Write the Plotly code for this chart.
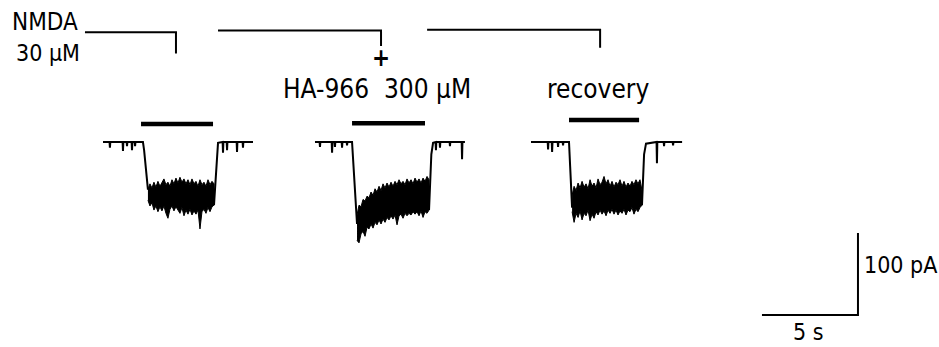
import numpy as np
import plotly.graph_objects as go

# ---------------- data (time in s, current in pA) ----------------
band_time = [(2.34, 5.78), (13.23, 16.98), (24.43, 28.07)]

trace1_top = [-58, -51, -56, -49, -55, -48, -54, -50, -45, -52, -49, -54, -46, -51, -44, -50, -43,
              -49, -45, -51, -46, -52, -45, -51, -48, -54, -46, -52, -49, -54, -46, -52, -48, -51]
trace1_bottom = [-71, -78, -74, -83, -78, -85, -79, -84, -78, -87, -93, -82, -78, -84, -79, -82, -87,
                 -80, -90, -83, -88, -82, -89, -84, -88, -83, -106, -85, -82, -87, -80, -85, -79, -77]
trace2_top = [-89, -77, -79, -70, -72, -66, -68, -61, -65, -57, -61, -54, -59, -51, -56, -50, -55, -49,
              -54, -48, -52, -46, -51, -48, -52, -45, -50, -46, -51, -44, -49, -45, -50, -44, -48, -42, -46]
trace2_bottom = [-120, -123, -112, -109, -115, -104, -106, -100, -105, -98, -101, -95, -100, -94, -98,
                 -92, -95, -90, -94, -89, -101, -90, -88, -93, -87, -90, -87, -89, -85, -88, -85, -90,
                 -84, -92, -85, -87, -83]
trace3_top = [-65, -54, -59, -50, -56, -48, -55, -51, -57, -46, -54, -50, -56, -45, -52, -49, -42, -51,
              -46, -54, -48, -55, -49, -52, -46, -54, -48, -55, -50, -54, -48, -52, -46, -51, -46, -59]
trace3_bottom = [-85, -98, -87, -92, -84, -95, -87, -90, -83, -96, -88, -93, -85, -89, -83, -88, -84,
                 -90, -83, -87, -82, -88, -83, -89, -84, -87, -82, -89, -83, -85, -80, -88, -82, -85, -80, -77]

trace1_pre_t = [0.00, 0.34, 0.36, 0.38, 1.02, 1.04, 1.06, 1.23, 1.25, 1.27, 1.49, 1.51, 1.53, 1.65, 1.67,
                1.69, 2.08, 2.14, 2.24, 2.34]
trace1_pre_i = [0, 0, -7, 0, 0, -11, 0, 0, -5, 0, 0, -10, 0, 0, -5, 0, 0, -10, -34, -58]
trace1_post_t = [5.78, 5.86, 5.92, 5.99, 6.23, 6.25, 6.27, 6.44, 6.46, 6.48, 6.96, 6.98, 7.00, 7.27, 7.29,
                 7.31, 7.81]
trace1_post_i = [-77, -45, -15, -1, 0, -13, 0, 0, -10, 0, 0, -12, 0, 0, -7, 0, 0]

trace2_pre_t = [11.04, 11.28, 11.30, 11.32, 11.91, 11.93, 11.95, 12.06, 12.08, 12.10, 12.43, 12.45, 12.47,
                12.69, 12.71, 12.73, 12.97, 13.05, 13.13, 13.23]
trace2_pre_i = [0, 0, -6, 0, 0, -13, 0, 0, -6, 0, 0, -7, 0, 0, -4, 0, 0, -30, -70, -100]
trace2_post_t = [16.98, 17.04, 17.10, 17.19, 17.32, 17.34, 17.36, 17.53, 17.55, 17.57, 18.05, 18.07, 18.09,
                 18.68, 18.70, 18.72, 18.85]
trace2_post_i = [-83, -45, -15, -1, 0, -10, 0, 0, -7, 0, 0, -5, 0, 0, -21, 0, 0]

trace3_pre_t = [22.29, 23.16, 23.18, 23.20, 23.37, 23.39, 23.41, 23.68, 23.70, 23.72, 23.94, 23.96, 23.98,
                24.27, 24.33, 24.39, 24.43]
trace3_pre_i = [0, 0, -9, 0, 0, -12, 0, 0, -6, 0, 0, -4, 0, 0, -30, -60, -80]
trace3_post_t = [28.07, 28.12, 28.18, 28.28, 28.83, 28.85, 28.87, 29.20, 29.22, 29.24, 29.67, 29.69, 29.71,
                 30.16]
trace3_post_i = [-77, -45, -15, -2, 0, -26, 0, 0, -5, 0, 0, -4, 0, 0]

# agonist application bars
bar_start = [1.98, 12.97, 24.27]
bar_end = [5.73, 16.77, 27.92]
bar_level = [22, 23, 27]

# solution brackets at the top
bracket_start = [-0.94, 5.99, 16.88]
bracket_end = [3.80, 14.48, 25.89]
bracket_level = [134, 136, 137]
bracket_drop = [108, 117, 115]

# scale bar
scale_t0, scale_i0 = 34.32, -211
scale_time, scale_current = 5, 100

x_range = [-5.365, 43.54]
y_range = [-250, 173.2]

# ---------------- figure ----------------
fig = go.Figure()
K = "black"

bands = [(trace1_top, trace1_bottom), (trace2_top, trace2_bottom), (trace3_top, trace3_bottom)]
for (t0, t1), (top, bot) in zip(band_time, bands):
    t = list(np.linspace(t0, t1, len(top)))
    fig.add_trace(go.Scatter(x=t + t[::-1], y=top + bot[::-1], mode="lines", fill="toself",
                             fillcolor=K, line=dict(color=K, width=1), hoverinfo="skip"))

for tx, iy in [(trace1_pre_t, trace1_pre_i), (trace1_post_t, trace1_post_i),
               (trace2_pre_t, trace2_pre_i), (trace2_post_t, trace2_post_i),
               (trace3_pre_t, trace3_pre_i), (trace3_post_t, trace3_post_i)]:
    fig.add_trace(go.Scatter(x=tx, y=iy, mode="lines", line=dict(color=K, width=2),
                             hoverinfo="skip"))

bx, by = [], []
for s, e, l in zip(bar_start, bar_end, bar_level):
    bx += [s, e, None]
    by += [l, l, None]
fig.add_trace(go.Scatter(x=bx, y=by, mode="lines", line=dict(color=K, width=4.5), hoverinfo="skip"))

kx, ky = [], []
for s, e, l, d in zip(bracket_start, bracket_end, bracket_level, bracket_drop):
    kx += [s, e, e, None]
    ky += [l, l, d, None]
fig.add_trace(go.Scatter(x=kx, y=ky, mode="lines", line=dict(color=K, width=2), hoverinfo="skip"))

fig.add_trace(go.Scatter(x=[scale_t0, scale_t0 + scale_time, scale_t0 + scale_time],
                         y=[scale_i0, scale_i0, scale_i0 + scale_current], mode="lines",
                         line=dict(color=K, width=2), hoverinfo="skip"))

W, H = 939, 347
FONT = "DejaVu Sans Condensed, DejaVu Sans, sans-serif"


def label(text, px, py, size):
    fig.add_annotation(x=px / W, y=1 - py / H, xref="paper", yref="paper", text=text,
                       showarrow=False, xanchor="center", yanchor="middle",
                       font=dict(family=FONT, size=size, color=K))


label("NMDA", 45, 22, 24)
label("30\u00a0\u00b5M", 48, 53, 23)
label("<b>+</b>", 381, 58, 24)
label("HA-966\u00a0\u00a0300\u00a0\u00b5M", 377, 89, 26)
label("recovery", 598, 89, 26)
label("100\u00a0pA", 900, 265, 23)
label("5\u00a0s", 808, 332, 23)

fig.update_layout(width=W, height=H, margin=dict(l=0, r=0, t=0, b=0),
                  paper_bgcolor="white", plot_bgcolor="white", showlegend=False,
                  xaxis=dict(range=x_range, visible=False, fixedrange=True),
                  yaxis=dict(range=y_range, visible=False, fixedrange=True))

fig.write_html("out.html")
